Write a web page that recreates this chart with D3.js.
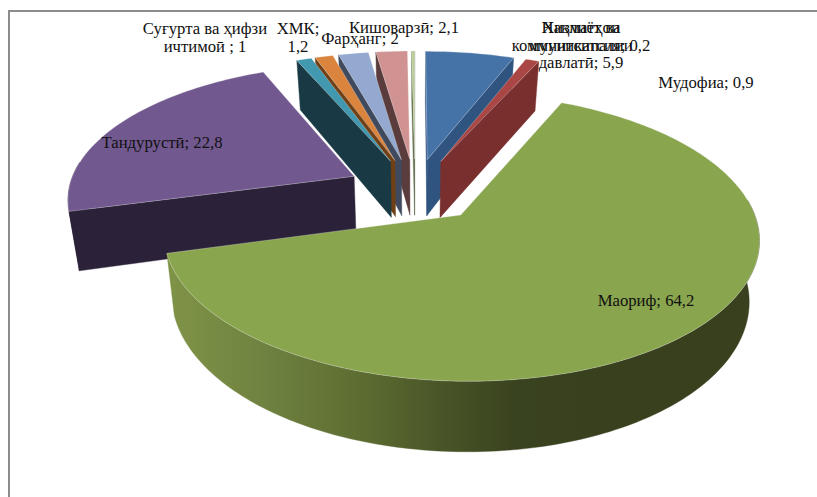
<!DOCTYPE html>
<html>
<head>
<meta charset="utf-8">
<script src="https://cdn.jsdelivr.net/npm/d3@7"></script>
<style>
html,body{margin:0;padding:0;background:#fff;overflow:hidden}
svg{display:block}
text{font-family:"Liberation Serif","Times New Roman",serif;font-size:16.7px;fill:#111}
</style>
</head>
<body>
<svg id="chart" width="817" height="497"></svg>
<script>
// Data, clockwise from 12 o'clock
const categories = ["Хизматҳои давлатӣ","Мудофиа","Маориф","Тандурустӣ","Суғурта ва ҳифзи ичтимоӣ","ХМК","Фарҳанг","Кишоварзӣ","Нақлиёт ва коммуникатсия"];
const values = [5.9,0.9,64.2,22.8,1,1.2,2,2.1,0.2];
const topColors = ["#4572a7","#aa4643","#89a54e","#71588f","#4198af","#db843d","#93a9cf","#d19392","#b9cd96"];
const wallColors = ["#2f5480","#7a2f2f","#5a6b30","#2b2138","#193a45","#6f3f15","#3f4a5e","#5a3c3c","#5e6a48"];
const labelLines = [
  ["Хизматҳои","мунитсипалии","давлатӣ; 5,9"],
  ["Мудофиа; 0,9"],
  ["Маориф; 64,2"],
  ["Тандурустӣ; 22,8"],
  ["Суғурта ва ҳифзи","ичтимоӣ ; 1"],
  ["ХМК;","1,2"],
  ["Фарҳанг; 2"],
  ["Кишоварзӣ; 2,1"],
  ["Нақлиёт ва","коммуникатсия; 0,2"]
];
const labelCenters = [[581,33],[706,88],[646,306],[162,148],[205,34],[298,34],[360,44],[404,33],[581,33]];
const rimStops = [[0,"#7f9347"],[0.22,"#6f8240"],[0.45,"#5c6c31"],[0.62,"#4a5628"],[0.8,"#3a431f"],[1,"#38401e"]];

// Projection of the tilted, exploded pie
const cx = 415, cy = 190, radius = 286, tilt = 133, persp = 0.15, explode = 0.24, depth = 58, bottomShrink = 0.97;
const sx = d3.scaleLinear().domain([0,1]).range([cx,cx+radius]);
const sy = d3.scaleLinear().domain([0,1]).range([cy,cy-tilt]);
const project = (X,Y) => { const s = 1/(1+persp*Y); return [sx(X*s), sy(Y*s), s]; };
const lower = p => [cx+(p[0]-cx)*bottomShrink, p[1]+depth*p[2]];

const svg = d3.select("#chart");
svg.append("path").attr("d","M9 497V11H817").attr("fill","none").attr("stroke","#8c8c8c").attr("stroke-width",2);

const defs = svg.append("defs");
const grad = defs.append("linearGradient").attr("id","rim").attr("gradientUnits","userSpaceOnUse")
  .attr("x1",170).attr("x2",600).attr("y1",0).attr("y2",0);
rimStops.forEach(s=>grad.append("stop").attr("offset",s[0]).attr("stop-color",s[1]));

const arcs = d3.pie().sort(null).value(d=>d)(values);
const line = d3.line();
const slices = arcs.map((a,i)=>{
  const mid=(a.startAngle+a.endAngle)/2;
  return {i,a0:a.startAngle,a1:a.endAngle,ox:explode*Math.sin(mid),oy:explode*Math.cos(mid)};
}).sort((p,q)=>q.oy-p.oy);

function signedArea(p,q,r){return (q[0]-p[0])*(r[1]-p[1])-(q[1]-p[1])*(r[0]-p[0]);}

slices.forEach(sl=>{
  const g = svg.append("g");
  const apex = project(sl.ox,sl.oy);
  const steps = Math.max(2,Math.ceil((sl.a1-sl.a0)/0.02));
  const angs = d3.range(steps+1).map(k=>sl.a0+(sl.a1-sl.a0)*k/steps);
  const rim = angs.map(t=>project(sl.ox+Math.sin(t),sl.oy+Math.cos(t)));
  const wallFill = sl.i===2 ? "url(#rim)" : wallColors[sl.i];
  const wall = (pts,fill)=>g.append("path")
    .attr("d",line(pts.concat(pts.slice().reverse().map(lower)).map(p=>[p[0],p[1]]))+"Z")
    .attr("fill",fill).attr("stroke",fill).attr("stroke-width",0.4);
  // outer wall, visible part only
  let run=[];
  const flush=()=>{ if(run.length>1) wall(run,wallFill); run=[]; };
  rim.forEach((p,k)=>{ if(Math.cos(angs[k])<0.12) run.push(p); else flush(); });
  flush();
  // radial walls: keep only those facing the viewer
  const first = rim[0], last = rim[rim.length-1];
  if (signedArea(apex,first,lower(first)) < 0) wall([apex,first],wallColors[sl.i]);
  if (signedArea(last,apex,lower(apex)) < 0) wall([last,apex],wallColors[sl.i]);
  g.append("path").attr("d",line([apex,...rim].map(p=>[p[0],p[1]]))+"Z")
    .attr("fill",topColors[sl.i]).attr("stroke","#f2f2f2").attr("stroke-width",0.3);
});

// labels on top
labelLines.forEach((lines,i)=>{
  const t = svg.append("text").attr("text-anchor","middle")
    .attr("x",labelCenters[i][0]).attr("y",labelCenters[i][1]);
  lines.forEach((s,k)=>t.append("tspan").attr("x",labelCenters[i][0]).attr("dy",k?17.5:0).text(s));
});
</script>
</body>
</html>
